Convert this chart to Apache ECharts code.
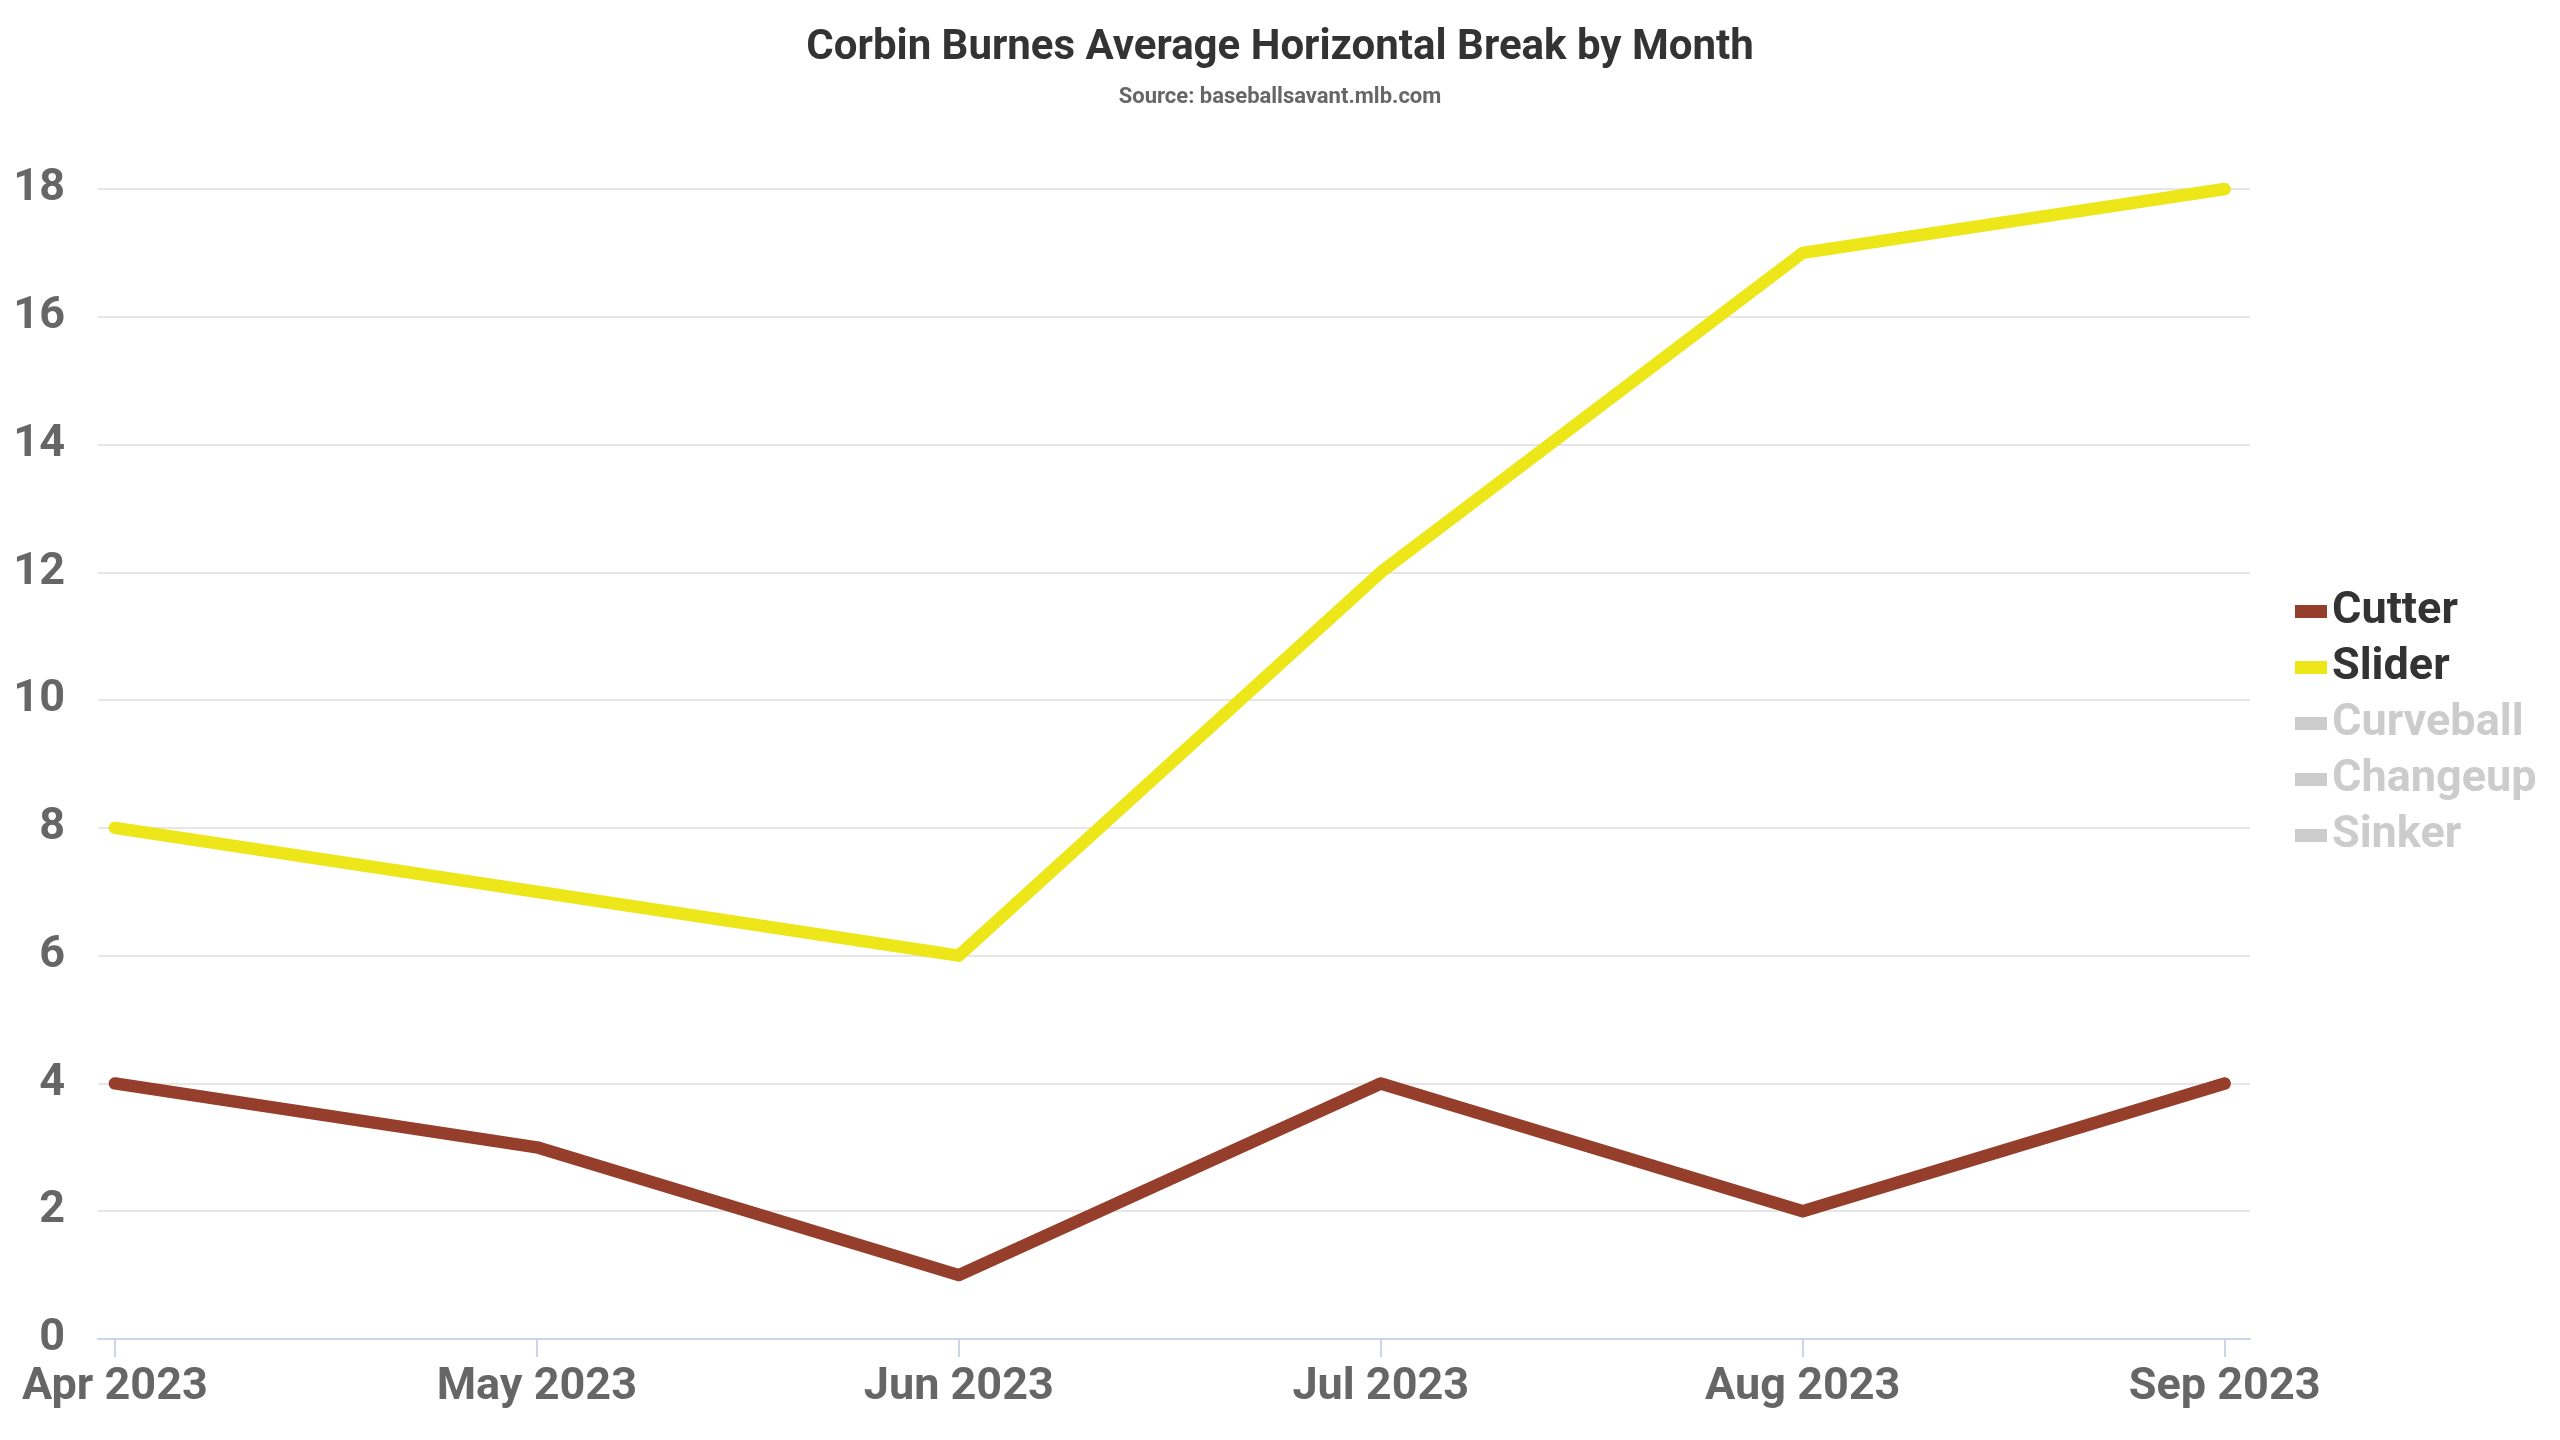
<!DOCTYPE html>
<html>
<head>
<meta charset="utf-8">
<script src="https://cdn.jsdelivr.net/npm/echarts@6/dist/echarts.min.js"></script>
<style>
  html, body { margin: 0; padding: 0; background: #fff; }
  #chart { width: 2560px; height: 1440px; }
</style>
</head>
<body>
<div id="chart"></div>
<script>
// months on the x axis
const months = ['Apr 2023', 'May 2023', 'Jun 2023', 'Jul 2023', 'Aug 2023', 'Sep 2023'];

// average horizontal break (inches) per pitch type
const cutter = [4, 3, 1, 4, 2, 4];
const slider = [8, 7, 6, 12, 17, 18];
// hidden in the legend, values not shown in the picture
const curveball = [];
const changeup = [];
const sinker = [];

const yTicks = [0, 2, 4, 6, 8, 10, 12, 14, 16, 18];

const pitchNames = ['Cutter', 'Slider', 'Curveball', 'Changeup', 'Sinker'];
const pitchColors = ['#953e2b', '#ede619', '#7cb5ec', '#90ed7d', '#f7a35c'];
const pitchValues = [cutter, slider, curveball, changeup, sinker];

const font = 'Roboto';

function toPoints(values) {
  return values.map((v, i) => [i, v]);
}

const chart = echarts.init(document.getElementById('chart'));

const series = pitchNames.map((name, i) => ({
  name: name,
  type: 'line',
  data: toPoints(pitchValues[i]),
  symbol: 'none',
  lineStyle: { width: 12.5, cap: 'round', join: 'round', color: pitchColors[i] },
  itemStyle: { color: pitchColors[i] },
  emphasis: { disabled: true },
  animation: false
}));

chart.setOption({
  backgroundColor: '#fff',
  animation: false,
  title: {
    text: 'Corbin Burnes Average Horizontal Break by Month',
    subtext: 'Source: baseballsavant.mlb.com',
    left: 'center',
    top: 22,
    itemGap: 17,
    textStyle: { fontFamily: font, fontWeight: 'bold', fontSize: 42, color: '#333' },
    subtextStyle: { fontFamily: font, fontWeight: 'bold', fontSize: 22, color: '#666' }
  },
  legend: {
    orient: 'vertical',
    left: 2290,
    top: 584,
    itemWidth: 32,
    itemHeight: 13,
    itemGap: 11,
    icon: 'rect',
    inactiveColor: '#cccccc',
    selected: { Curveball: false, Changeup: false, Sinker: false },
    textStyle: { fontFamily: font, fontWeight: 'bold', fontSize: 45, color: '#333' },
    data: pitchNames
  },
  grid: { left: 98, right: 310, top: 189, bottom: 101, containLabel: false },
  xAxis: {
    type: 'value',
    min: -0.04,
    max: 5.06,
    splitLine: { show: false },
    axisLine: { show: true, lineStyle: { color: '#ccd6eb', width: 2 } },
    axisTick: { show: true, length: 18, lineStyle: { color: '#ccd6eb', width: 2 },
      customValues: months.map((m, i) => i) },
    axisLabel: {
      customValues: months.map((m, i) => i),
      formatter: v => months[Math.round(v)],
      margin: 26,
      fontFamily: font, fontWeight: 'bold', fontSize: 45, color: '#666'
    }
  },
  yAxis: {
    type: 'value',
    min: 0,
    max: 18,
    interval: 2,
    axisLine: { show: false },
    axisTick: { show: false },
    splitLine: { lineStyle: { color: '#e6e6e6', width: 2 } },
    axisLabel: {
      margin: 33,
      formatter: v => (yTicks.includes(v) ? String(v) : ''),
      fontFamily: font, fontWeight: 'bold', fontSize: 45, color: '#666'
    }
  },
  series: series
});
</script>
</body>
</html>
